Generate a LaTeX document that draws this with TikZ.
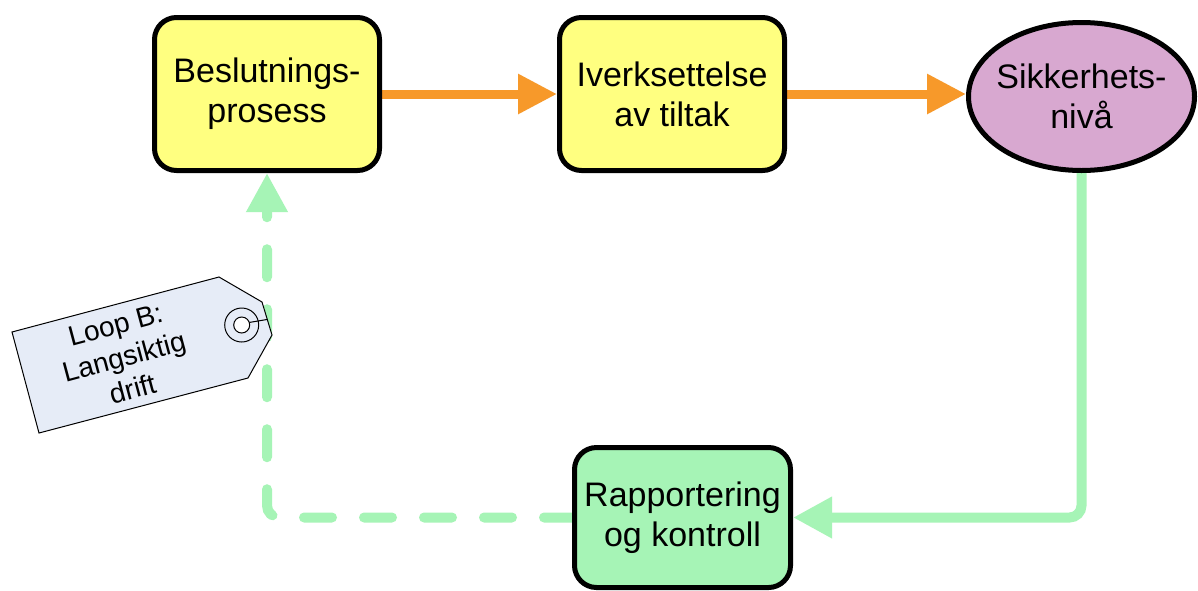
\documentclass[tikz,border=0pt]{standalone}
\usepackage{fontspec}
\setmainfont{Liberation Sans}
\usetikzlibrary{arrows.meta,shapes.geometric}
\definecolor{procyellow}{HTML}{FFFF80}
\definecolor{levelpurple}{HTML}{D8A8D0}
\definecolor{ctrlgreen}{HTML}{A6F4B6}
\definecolor{floworange}{HTML}{F7992A}
\definecolor{tagblue}{HTML}{E6ECF7}
\pgfdeclarelayer{background}
\pgfdeclarelayer{canvas}
\pgfsetlayers{canvas,background,main}

\begin{document}
\begin{tikzpicture}[x=1pt,y=-1pt,
  boxtext/.style={align=center, font=\fontsize{34}{40}\selectfont},
  procbox/.style={boxtext, draw=black, line width=5pt, rounded corners=22pt,
    minimum width=225pt, minimum height=153pt, inner sep=0pt},
  orangeflow/.style={draw=floworange, line width=9pt, line cap=round,
    -{Triangle[length=39pt,width=38pt]}},
  greenflow/.style={draw=ctrlgreen, line width=10pt, line cap=round, rounded corners=12pt,
    -{Triangle[length=39pt,width=39pt]}},
  tagline/.style={draw=black, line width=1pt}
]
  % white canvas
  \begin{pgfonlayer}{canvas}
    \fill[white] (0,0) rectangle (1198,590);
  \end{pgfonlayer}
  \useasboundingbox (0,0) rectangle (1198,590);

  % process boxes
  \node[procbox, fill=procyellow] (bp) at (267,94) {Beslutnings-\\prosess};
  \node[procbox, fill=procyellow] (it) at (672,94) {Iverksettelse\\av tiltak};
  \node[procbox, fill=ctrlgreen, minimum width=216pt, minimum height=140pt] (rk) at (682.5,517.5) {Rapportering\\og kontroll};

  % safety level
  \node[ellipse, draw=black, line width=5pt, fill=levelpurple, inner sep=0pt,
    minimum width=226pt, minimum height=148pt] (niva) at (1081.5,96.5) {};
  \node[boxtext] (nivatext) at (niva.center) {Sikkerhets-\\nivå};

  % connectors
  \begin{pgfonlayer}{background}
    \draw[orangeflow] (bp.east) -- (it.west);
    \draw[orangeflow] (it.east) -- (niva.west |- it.east);
    \draw[greenflow] (niva.south) -- (niva.south |- rk.east) -- (rk.east);
    \draw[greenflow, dash pattern=on 28pt off 32pt] (rk.west) -- (rk.west -| bp.south) -- (bp.south);
  \end{pgfonlayer}

  % loop label tag
  \filldraw[tagline, fill=tagblue] (12,332) -- (219,277) -- (262,302) -- (272,335)
    -- (248,378) -- (39,433) -- cycle;
  \draw[tagline] (241.7,325) circle[radius=17pt];
  \filldraw[tagline, fill=white] (241.7,325) circle[radius=8pt];
  \draw[tagline] (249.5,322.4) -- (267.5,319.4);
  \node[align=center, rotate=15, font=\fontsize{28}{33}\selectfont] (looptag) at (124,357)
    {Loop B:\\Langsiktig\\drift};
\end{tikzpicture}
\end{document}
